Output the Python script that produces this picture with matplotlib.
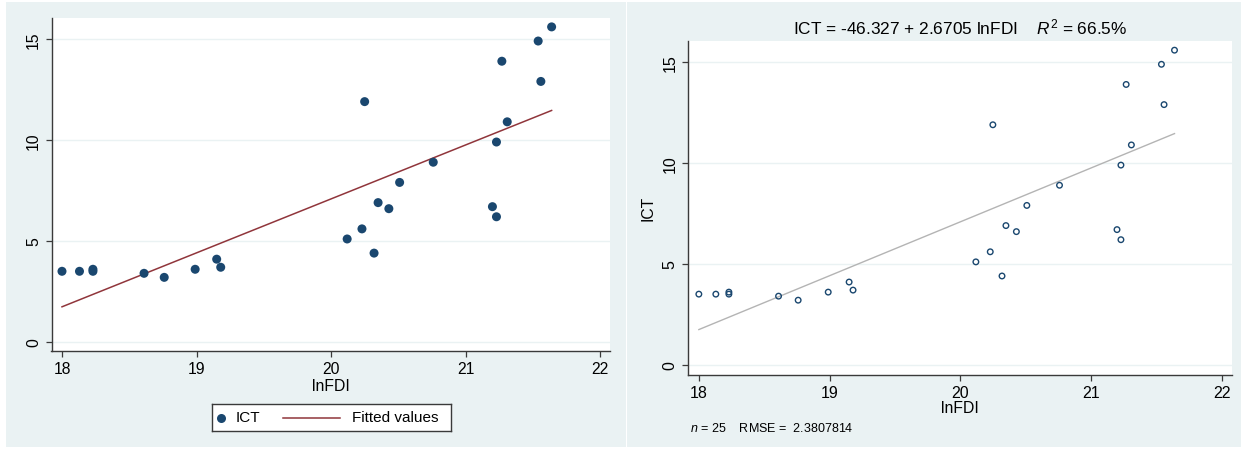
import numpy as np
import matplotlib
matplotlib.use("Agg")
import matplotlib.pyplot as plt
from matplotlib.patches import Rectangle

plt.rcParams["font.family"] = ["Liberation Sans", "DejaVu Sans"]
plt.rcParams["mathtext.fontset"] = "custom"
plt.rcParams["mathtext.rm"] = "Liberation Sans"
plt.rcParams["mathtext.it"] = "Liberation Sans:italic"

# ── data ──────────────────────────────────────────────────────────────────────
lnfdi = [18.00, 18.13, 18.23, 18.23, 18.61, 18.76, 18.99, 19.15, 19.18,
         20.12, 20.23, 20.25, 20.32, 20.35, 20.43, 20.51, 20.76,
         21.20, 21.23, 21.23, 21.27, 21.31, 21.54, 21.56, 21.64]
ict = [3.5, 3.5, 3.6, 3.5, 3.4, 3.2, 3.6, 4.1, 3.7,
       5.1, 5.6, 11.9, 4.4, 6.9, 6.6, 7.9, 8.9,
       6.7, 6.2, 9.9, 13.9, 10.9, 14.9, 12.9, 15.6]
intercept = -46.327
slope = 2.6705
r2_pct = 66.5
rmse = 2.3807814
x_ticks = [18, 19, 20, 21, 22]
y_ticks = [0, 5, 10, 15]

NAVY = "#1a476f"
MAROON = "#90353b"
BG = "#eaf2f3"
AXC = "#3a3a3a"

W, H = 1241, 452
fig = plt.figure(figsize=(W / 100, H / 100), dpi=100)


def px_axes(x0, y0, x1, y1):
    # pixel box (top-left origin) -> figure fraction axes
    return fig.add_axes([x0 / W, 1 - y1 / H, (x1 - x0) / W, (y1 - y0) / H])


# panel backgrounds (behind everything)
for x0, x1 in [(6, 626), (627, 1241)]:
    fig.patches.append(Rectangle((x0 / W, 1 - 448 / H), (x1 - x0) / W,
                                 445 / H, transform=fig.transFigure,
                                 facecolor=BG, edgecolor="none", zorder=-10))

xs = np.array(lnfdi)
xfit = np.array([xs.min(), xs.max()])
yfit = intercept + slope * xfit


def style_axes(ax, xlim, ylim, fs):
    ax.set_facecolor("white")
    ax.set_xlim(*xlim)
    ax.set_ylim(*ylim)
    ax.set_xticks(x_ticks)
    ax.set_yticks(y_ticks)
    ax.set_yticklabels([str(t) for t in y_ticks], rotation=90, va="center")
    for s in ["top", "right"]:
        ax.spines[s].set_visible(False)
    for s in ["left", "bottom"]:
        ax.spines[s].set_color(AXC)
        ax.spines[s].set_linewidth(1.0)
    ax.tick_params(direction="out", length=4.5, width=0.9, color=AXC,
                   labelsize=fs, pad=3)
    for t in y_ticks:
        ax.axhline(t, color=BG, lw=1.0, zorder=0)


# ── left panel ────────────────────────────────────────────────────────────────
ax1 = px_axes(51.5, 19, 610, 352)
style_axes(ax1, (17.922, 22.074), (-0.446, 16.04), 11.3)
ax1.scatter(lnfdi, ict, s=42, color=NAVY, edgecolors="none", zorder=3)
ax1.plot(xfit, yfit, color=MAROON, lw=1.1, zorder=2)
ax1.set_xlabel("lnFDI", fontsize=11.3, labelpad=1)

# legend box drawn in its own pixel-scaled axes
lg = px_axes(212, 405, 451, 432)
lg.set_xlim(212, 451)
lg.set_ylim(432, 405)
lg.set_xticks([])
lg.set_yticks([])
lg.set_facecolor("white")
for s in lg.spines.values():
    s.set_color(AXC)
    s.set_linewidth(1.0)
lg.plot([221], [418.5], marker="o", ms=6.5, color=NAVY, mew=0)
lg.text(236, 418.5, "ICT", fontsize=11, va="center", ha="left")
lg.plot([283, 340], [418.5, 418.5], color=MAROON, lw=1.1)
lg.text(352, 418.5, "Fitted values", fontsize=11, va="center", ha="left")

# ── right panel ───────────────────────────────────────────────────────────────
ax2 = px_axes(688, 41.5, 1232, 375.5)
style_axes(ax2, (17.917, 22.08), (-0.486, 16.08), 11.5)
ax2.scatter(lnfdi, ict, s=16, facecolors="none", edgecolors=NAVY,
            linewidths=1.0, zorder=3)
ax2.plot(xfit, yfit, color="#b4b4b4", lw=1.0, zorder=2)
ax2.set_xlabel("lnFDI", fontsize=11.3, labelpad=0)
ax2.set_ylabel("ICT", fontsize=11.3, labelpad=5)
ax2.set_title(f"ICT = {intercept:.3f} + {slope:.4f} lnFDI    "
              f"$R^2$ = {r2_pct:.1f}%", fontsize=12.4, pad=5)
fig.text(690 / W, 1 - 429 / H, f"$n$ = {len(lnfdi)}    RMSE =  {rmse}",
         fontsize=9, ha="left", va="center")

fig.savefig("out.png", dpi=100)
